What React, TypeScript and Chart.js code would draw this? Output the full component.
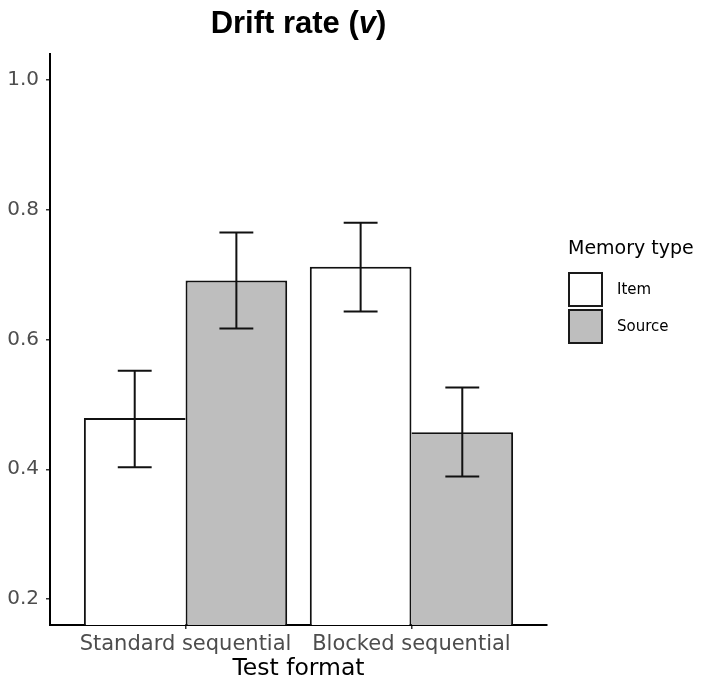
import React, { useEffect, useRef } from "react";
import { Chart, registerables } from "chart.js";

Chart.register(...registerables);

// ---- data ----
const CATEGORIES = ["Standard sequential", "Blocked sequential"];
const CATEGORY_POS = [1, 2];
const SERIES_NAMES = ["Item", "Source"];
const ITEM_MEAN = [0.479, 0.712];
const ITEM_LOW = [0.403, 0.643];
const ITEM_HIGH = [0.552, 0.78];
const SOURCE_MEAN = [0.691, 0.457];
const SOURCE_LOW = [0.617, 0.389];
const SOURCE_HIGH = [0.765, 0.526];
const Y_TICKS = [0.2, 0.4, 0.6, 0.8, 1.0];
const Y_MIN = 0.16;
const Y_MAX = 1.04;
const X_MIN = 0.4;
const X_MAX = 2.6;
const CAP_HALF = 0.075;
const FILLS = ["#ffffff", "#bebebe"];
const TITLE_MAIN = "Drift rate (";
const TITLE_ITALIC = "v";
const TITLE_END = ")";
const X_TITLE = "Test format";
const LEGEND_TITLE = "Memory type";

const ERRORS = [
  [ITEM_LOW, ITEM_HIGH],
  [SOURCE_LOW, SOURCE_HIGH],
];

const FONT = '"DejaVu Sans", "Liberation Sans", sans-serif';
const TITLE_FONT = '"Liberation Sans", Arial, sans-serif';

const errorBarPlugin = {
  id: "errorBars",
  afterDatasetsDraw(chart: any) {
    const ctx = chart.ctx;
    const xs = chart.scales.x;
    const ys = chart.scales.y;
    const capHalf = Math.abs(xs.getPixelForValue(CAP_HALF) - xs.getPixelForValue(0));
    chart.data.datasets.forEach((_ds: any, di: number) => {
      const meta = chart.getDatasetMeta(di);
      const [lo, hi] = ERRORS[di];
      meta.data.forEach((bar: any, j: number) => {
        const x = bar.x;
        const yl = ys.getPixelForValue(lo[j]);
        const yh = ys.getPixelForValue(hi[j]);
        ctx.save();
        ctx.strokeStyle = "#111";
        ctx.lineWidth = 2;
        ctx.beginPath();
        ctx.moveTo(x, yl);
        ctx.lineTo(x, yh);
        ctx.moveTo(x - capHalf, yl);
        ctx.lineTo(x + capHalf, yl);
        ctx.moveTo(x - capHalf, yh);
        ctx.lineTo(x + capHalf, yh);
        ctx.stroke();
        ctx.restore();
      });
    });
  },
};

const decorPlugin = {
  id: "decor",
  afterDraw(chart: any) {
    const ctx = chart.ctx;
    const area = chart.chartArea;
    // Title with italic v
    ctx.save();
    const size = 31;
    const fb = `bold ${size}px ${TITLE_FONT}`;
    const fi = `italic bold ${size}px ${TITLE_FONT}`;
    ctx.font = fb;
    const w1 = ctx.measureText(TITLE_MAIN).width;
    const w3 = ctx.measureText(TITLE_END).width;
    ctx.font = fi;
    const w2 = ctx.measureText(TITLE_ITALIC).width;
    const cx = (area.left + area.right) / 2;
    let x = cx - (w1 + w2 + w3) / 2;
    const y = 33;
    ctx.fillStyle = "#000";
    ctx.textBaseline = "alphabetic";
    ctx.textAlign = "left";
    ctx.font = fb;
    ctx.fillText(TITLE_MAIN, x, y);
    x += w1;
    ctx.font = fi;
    ctx.fillText(TITLE_ITALIC, x, y);
    x += w2;
    ctx.font = fb;
    ctx.fillText(TITLE_END, x, y);

    // Legend
    ctx.textBaseline = "middle";
    const lx = area.right + 21;
    ctx.font = `19px ${FONT}`;
    ctx.fillText(LEGEND_TITLE, lx, 249);
    const keyTop = 272;
    const keySize = 35;
    SERIES_NAMES.forEach((name, i) => {
      const ky = keyTop + i * (keySize + 2);
      ctx.fillStyle = FILLS[i];
      ctx.fillRect(lx, ky, keySize, keySize);
      ctx.strokeStyle = "#1a1a1a";
      ctx.lineWidth = 2;
      ctx.strokeRect(lx + 1, ky + 1, keySize - 2, keySize - 2);
      ctx.fillStyle = "#000";
      ctx.font = `15px ${FONT}`;
      ctx.fillText(name, lx + 49, ky + keySize / 2 + 1);
    });
    ctx.restore();
  },
};

export default function App() {
  const ref = useRef<HTMLCanvasElement | null>(null);

  useEffect(() => {
    if (!ref.current) return;
    const chart = new Chart(ref.current, {
      type: "bar",
      data: {
        datasets: [
          {
            label: SERIES_NAMES[0],
            data: CATEGORY_POS.map((p, i) => ({ x: p, y: ITEM_MEAN[i] })),
            backgroundColor: FILLS[0],
            borderColor: "#111",
            borderSkipped: false,
            base: Y_MIN,
            borderWidth: (c: any) => {
              const i = c.dataIndex;
              return { top: 2, left: 2, bottom: 0, right: ITEM_MEAN[i] > SOURCE_MEAN[i] ? 2 : 0 };
            },
          } as any,
          {
            label: SERIES_NAMES[1],
            data: CATEGORY_POS.map((p, i) => ({ x: p, y: SOURCE_MEAN[i] })),
            backgroundColor: FILLS[1],
            borderColor: "#111",
            borderSkipped: false,
            base: Y_MIN,
            borderWidth: (c: any) => {
              const i = c.dataIndex;
              return { top: 2, right: 2, bottom: 0, left: SOURCE_MEAN[i] >= ITEM_MEAN[i] ? 2 : 0 };
            },
          } as any,
        ],
      },
      options: {
        animation: false,
        responsive: true,
        maintainAspectRatio: false,
        devicePixelRatio: 1,
        layout: { padding: { top: 54, right: 158, left: 0, bottom: 0 } },
        datasets: { bar: { categoryPercentage: 0.9, barPercentage: 1.0 } },
        plugins: {
          legend: { display: false },
          tooltip: { enabled: false },
          title: { display: false },
        },
        scales: {
          x: {
            type: "linear",
            min: X_MIN,
            max: X_MAX,
            offset: false,
            afterBuildTicks: (s: any) => {
              s.ticks = CATEGORY_POS.map((v) => ({ value: v }));
            },
            afterFit: (s: any) => {
              s.height = 61;
            },
            ticks: {
              color: "#4d4d4d",
              font: { family: FONT, size: 21 },
              padding: 3,
              maxRotation: 0,
              autoSkip: false,
              callback: (v: any) => {
                const k = CATEGORY_POS.indexOf(Number(v));
                return k >= 0 ? CATEGORIES[k] : "";
              },
            },
            grid: {
              display: true,
              offset: false,
              drawOnChartArea: false,
              drawTicks: true,
              tickLength: 4,
              color: "#333",
              lineWidth: 1.5,
            },
            border: { display: true, color: "#000", width: 2 },
            title: {
              display: true,
              text: X_TITLE,
              color: "#000",
              font: { family: FONT, size: 23.5 },
              padding: { top: 0, bottom: 3 },
            },
          } as any,
          y: {
            type: "linear",
            min: Y_MIN,
            max: Y_MAX,
            afterBuildTicks: (s: any) => {
              s.ticks = Y_TICKS.map((v) => ({ value: v }));
            },
            afterFit: (s: any) => {
              s.width = 50;
            },
            ticks: {
              color: "#4d4d4d",
              font: { family: FONT, size: 20 },
              padding: 7,
              callback: (v: any) => Number(v).toFixed(1),
            },
            grid: {
              display: true,
              offset: false,
              drawOnChartArea: false,
              drawTicks: true,
              tickLength: 4,
              color: "#333",
              lineWidth: 1.5,
            },
            border: { display: true, color: "#000", width: 2 },
          } as any,
        },
      },
      plugins: [errorBarPlugin, decorPlugin],
    });
    return () => chart.destroy();
  }, []);

  return (
    <div style={{ position: "fixed", left: 0, top: 0, width: 705, height: 686, background: "#fff" }}>
      <canvas ref={ref} />
    </div>
  );
}
